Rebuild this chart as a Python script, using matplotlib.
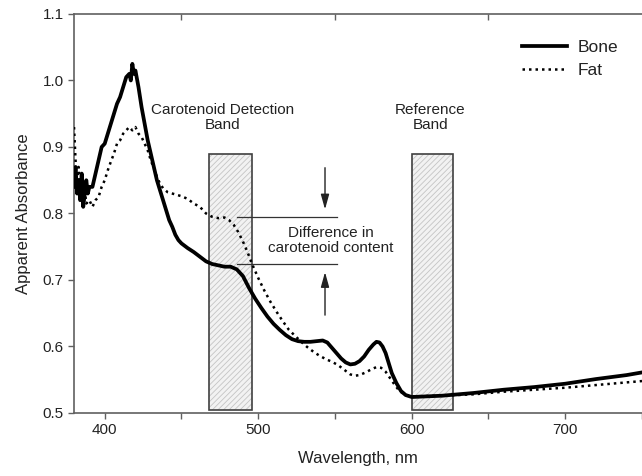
import matplotlib
matplotlib.use("Agg")
import matplotlib.pyplot as plt
from matplotlib.patches import Rectangle
from matplotlib.ticker import MultipleLocator

plt.rcParams['font.family'] = ['Liberation Sans', 'DejaVu Sans']
plt.rcParams['hatch.linewidth'] = 0.6

# ---- data ----
bone_wl = [380, 381, 382, 383, 384, 385, 386, 387, 388, 389, 390, 392, 394, 396, 398,
           400, 402, 404, 406, 408, 410, 412, 414, 416, 417, 418, 419, 420, 422, 424,
           426, 428, 430, 432, 434, 436, 438, 440, 442, 444, 446, 448, 450, 454, 458,
           462, 466, 470, 474, 478, 482, 486, 490, 494, 498, 502, 506, 510, 514, 518,
           522, 526, 530, 534, 538, 542, 545, 548, 551, 554, 557, 560, 563, 566, 569,
           572, 575, 577, 579, 581, 583, 585, 587, 590, 593, 596, 600, 610, 620, 630,
           640, 660, 680, 700, 720, 740, 750]
bone_abs = [0.84, 0.87, 0.83, 0.85, 0.82, 0.86, 0.81, 0.83, 0.85, 0.83, 0.84, 0.84, 0.86, 0.88, 0.90,
            0.905, 0.92, 0.935, 0.95, 0.965, 0.975, 0.99, 1.005, 1.01, 1.0, 1.025, 1.01, 1.015, 0.99, 0.96,
            0.935, 0.91, 0.89, 0.87, 0.85, 0.835, 0.82, 0.805, 0.79, 0.78, 0.768, 0.76, 0.755, 0.748, 0.742,
            0.735, 0.728, 0.724, 0.722, 0.72, 0.72, 0.716, 0.706, 0.688, 0.672, 0.658, 0.645, 0.634, 0.625, 0.617,
            0.611, 0.608, 0.607, 0.607, 0.608, 0.609, 0.606, 0.598, 0.59, 0.582, 0.576, 0.573, 0.574, 0.578, 0.585,
            0.595, 0.603, 0.607, 0.606, 0.60, 0.59, 0.575, 0.56, 0.545, 0.533, 0.527, 0.524, 0.525, 0.526, 0.528,
            0.53, 0.535, 0.539, 0.544, 0.551, 0.557, 0.561]

fat_wl = [380, 381, 382, 383, 384, 385, 386, 387, 388, 390, 392, 394, 396, 398, 400,
          402, 404, 406, 408, 410, 412, 414, 416, 418, 420, 422, 424, 426, 428, 430,
          432, 434, 436, 438, 441, 444, 447, 450, 454, 458, 462, 466, 470, 474, 478,
          481, 484, 487, 490, 493, 496, 500, 504, 508, 512, 516, 520, 524, 528, 532,
          536, 540, 544, 548, 552, 556, 560, 563, 566, 570, 574, 577, 580, 583, 586,
          589, 592, 596, 600, 620, 640, 660, 680, 700, 720, 740, 750]
fat_abs = [0.93, 0.88, 0.85, 0.87, 0.83, 0.84, 0.82, 0.835, 0.815, 0.82, 0.81, 0.82, 0.825, 0.84, 0.85,
           0.865, 0.878, 0.89, 0.905, 0.91, 0.92, 0.925, 0.93, 0.925, 0.93, 0.92, 0.915, 0.905, 0.895, 0.88,
           0.868, 0.855, 0.845, 0.838, 0.832, 0.83, 0.828, 0.826, 0.822, 0.815, 0.81, 0.80, 0.795, 0.793, 0.794,
           0.79, 0.783, 0.772, 0.758, 0.742, 0.724, 0.703, 0.684, 0.667, 0.652, 0.638, 0.625, 0.616, 0.607, 0.599,
           0.592, 0.586, 0.581, 0.577, 0.572, 0.565, 0.558, 0.556, 0.557, 0.561, 0.566, 0.569, 0.568, 0.562, 0.552,
           0.542, 0.533, 0.527, 0.525, 0.526, 0.528, 0.532, 0.535, 0.538, 0.542, 0.546, 0.548]

band_names = ["Carotenoid Detection\nBand", "Reference\nBand"]
band_start = [468, 600]
band_end = [496, 627]
band_low, band_high = 0.505, 0.89

diff_upper = 0.795
diff_lower = 0.724
diff_x = [486, 551]

# ---- figure ----
fig = plt.figure(figsize=(6.42, 4.76), dpi=100)
ax = fig.add_axes([0.1153, 0.1324, 0.8847, 0.8382])

spine_col = '#606060'
text_col = '#222222'

for s0, s1 in zip(band_start, band_end):
    # light hatched fill
    ax.add_patch(Rectangle((s0, band_low), s1 - s0, band_high - band_low,
                           facecolor='#f2f2f2', edgecolor='#c4c4c4', hatch='//////',
                           linewidth=0, zorder=1))
    # dark outline
    ax.add_patch(Rectangle((s0, band_low), s1 - s0, band_high - band_low,
                           facecolor='none', edgecolor='#404040',
                           linewidth=1.2, zorder=1.5))

ax.plot(bone_wl, bone_abs, color='black', lw=2.7, solid_joinstyle='round', zorder=3, label='Bone')
ax.plot(fat_wl, fat_abs, color='black', lw=1.8, linestyle=(0, (1, 1.6)), zorder=3, label='Fat')

# annotations
ax.plot(diff_x, [diff_upper, diff_upper], color='#333333', lw=0.9, zorder=2)
ax.plot(diff_x, [diff_lower, diff_lower], color='#333333', lw=0.9, zorder=2)
ax.annotate('', xy=(543.5, 0.802), xytext=(543.5, 0.873),
            arrowprops=dict(arrowstyle='-|>,head_length=0.9,head_width=0.25', color='#222222', lw=1.0))
ax.annotate('', xy=(543.5, 0.716), xytext=(543.5, 0.643),
            arrowprops=dict(arrowstyle='-|>,head_length=0.9,head_width=0.25', color='#222222', lw=1.0))
ax.text(547, 0.759, "Difference in\ncarotenoid content", ha='center', va='center',
        fontsize=11, color=text_col, linespacing=1.1)
ax.text(477, 0.944, band_names[0], ha='center', va='center', fontsize=11,
        color=text_col, linespacing=1.1)
ax.text(612, 0.944, band_names[1], ha='center', va='center', fontsize=11,
        color=text_col, linespacing=1.1)

ax.set_xlim(380, 750)
ax.set_ylim(0.5, 1.1)

ax.spines['right'].set_visible(False)
for sp in ['left', 'bottom', 'top']:
    ax.spines[sp].set_color(spine_col)
    ax.spines[sp].set_linewidth(1.2)

ax.xaxis.set_major_locator(MultipleLocator(100))
ax.xaxis.set_minor_locator(MultipleLocator(50))
ax.yaxis.set_major_locator(MultipleLocator(0.1))
ax.tick_params(axis='both', which='both', direction='out', length=4, width=1.0,
               color=spine_col, labelcolor=text_col, labelsize=11, top=False, right=False)
ax.tick_params(axis='x', which='minor', length=4)
ax.set_yticklabels([f"{v:.1f}" for v in ax.get_yticks()])

sec = ax.secondary_xaxis('top')
sec.set_xticks([450, 550, 650])
sec.tick_params(direction='in', length=4, width=1.0, color=spine_col, labeltop=False)
sec.spines['top'].set_visible(False)

ax.set_xlabel("Wavelength, nm", fontsize=12, color=text_col, labelpad=10)
ax.set_ylabel("Apparent Absorbance", fontsize=12, color=text_col, labelpad=8)

leg = ax.legend(loc='upper right', bbox_to_anchor=(0.985, 0.975), frameon=False,
                fontsize=12.5, handlelength=2.6, handletextpad=0.6, labelspacing=0.45)
for t in leg.get_texts():
    t.set_color(text_col)

fig.savefig("out.png", dpi=100)
